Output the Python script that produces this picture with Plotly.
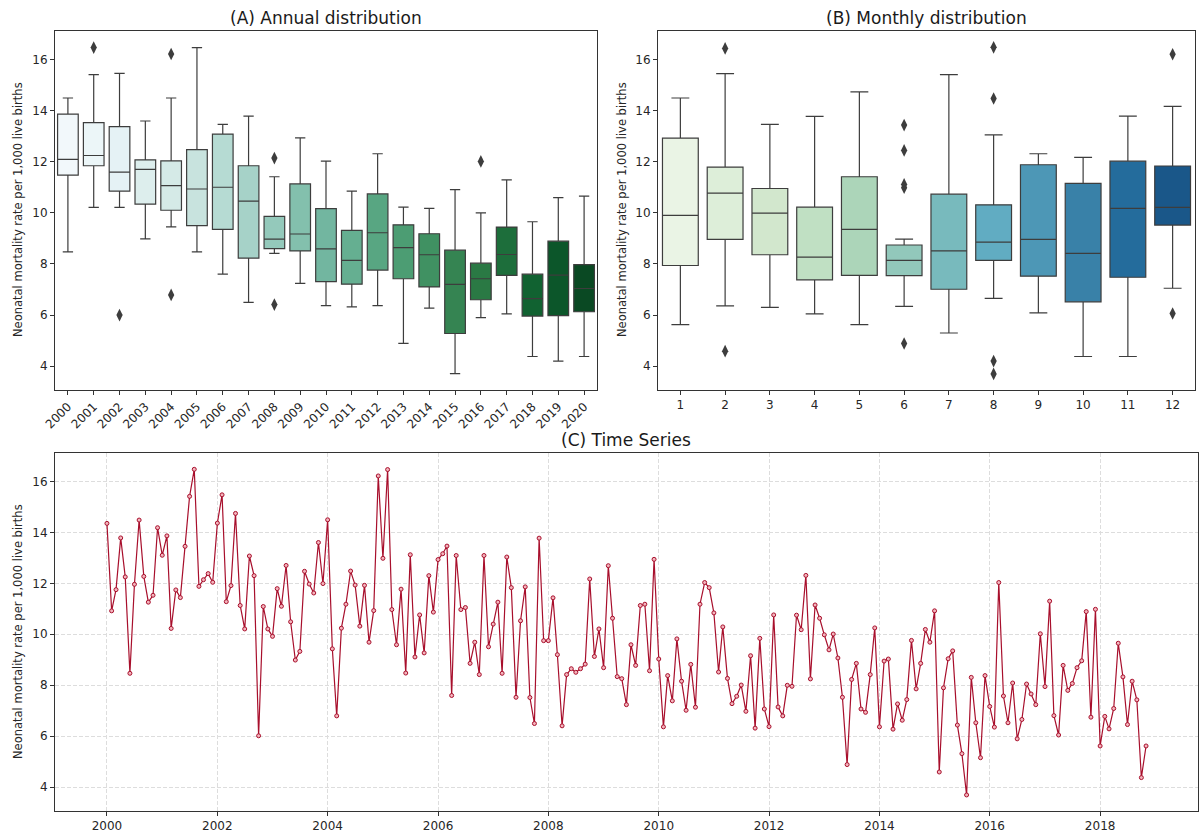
import colorsys
import pandas as pd
import plotly.graph_objects as go
import plotly.colors as pc

# ---------------- DATA ----------------
years = [str(y) for y in range(2000, 2021)]
a_lower = [8.47, 10.21, 10.21, 8.98, 9.45, 8.47, 7.60, 6.50, 8.41, 7.24, 6.37, 6.32, 6.37, 4.89, 6.27, 3.71, 5.90, 6.05, 4.38, 4.20, 4.38]
a_q1 = [11.47, 11.84, 10.85, 10.34, 10.10, 9.50, 9.35, 8.23, 8.60, 8.51, 7.31, 7.21, 7.76, 7.42, 7.10, 5.28, 6.60, 7.55, 5.96, 5.98, 6.13]
a_median = [12.09, 12.24, 11.59, 11.70, 11.06, 10.93, 11.00, 10.46, 8.97, 9.17, 8.59, 8.14, 9.22, 8.64, 8.36, 7.20, 7.42, 8.37, 6.64, 7.56, 7.04]
a_q3 = [13.86, 13.53, 13.37, 12.07, 12.03, 12.47, 13.08, 11.84, 9.86, 11.13, 10.16, 9.31, 10.74, 9.53, 9.18, 8.54, 8.03, 9.44, 7.60, 8.89, 7.97]
a_upper = [14.49, 15.40, 15.45, 13.59, 14.49, 16.46, 13.46, 13.78, 11.41, 12.93, 12.02, 10.85, 12.31, 10.22, 10.17, 10.91, 10.00, 11.29, 9.65, 10.59, 10.65]
a_out_x = ["2001", "2002", "2004", "2004", "2008", "2008", "2016"]
a_out_y = [16.46, 6.00, 16.21, 6.79, 12.14, 6.41, 12.01]

months = [str(m) for m in range(1, 13)]
b_lower = [5.63, 6.36, 6.30, 6.05, 5.63, 6.34, 5.30, 6.65, 6.09, 4.38, 4.38, 7.05]
b_q1 = [7.94, 8.96, 8.36, 7.38, 7.55, 7.54, 7.01, 8.14, 7.52, 6.52, 7.48, 9.52]
b_median = [9.90, 10.77, 9.99, 8.27, 9.35, 8.14, 8.51, 8.85, 8.96, 8.41, 10.17, 10.21]
b_q3 = [12.92, 11.79, 10.95, 10.22, 11.41, 8.74, 10.73, 10.31, 11.88, 11.15, 12.02, 11.83]
b_upper = [14.49, 15.44, 13.46, 13.77, 14.73, 8.97, 15.40, 13.05, 12.31, 12.17, 13.78, 14.16]
b_out_x = ["2", "2", "6", "6", "6", "6", "6", "8", "8", "8", "8", "12", "12"]
b_out_y = [16.43, 4.59, 13.43, 12.44, 11.11, 10.98, 4.89, 16.47, 14.47, 4.20, 3.70, 16.20, 6.06]

ts_start = "2000-01-01"
ts_values = [
    14.35, 10.92, 11.75, 13.78, 12.25, 8.47, 11.96, 14.48, 12.27, 11.26, 11.53, 14.18,
    13.10, 13.86, 10.23, 11.74, 11.44, 13.45, 15.41, 16.47, 11.88, 12.14, 12.38, 12.04,
    14.36, 15.47, 11.28, 11.91, 14.74, 11.13, 10.21, 13.07, 12.30, 6.02, 11.09, 10.21,
    9.92, 11.79, 11.10, 12.70, 10.49, 8.99, 9.33, 12.47, 11.97, 11.62, 13.60, 11.99,
    14.49, 9.43, 6.80, 10.24, 11.18, 12.48, 11.93, 10.32, 11.92, 9.69, 10.93, 16.21,
    12.98, 16.46, 10.97, 9.59, 11.77, 8.48, 13.12, 9.11, 10.76, 9.27, 12.30, 10.87,
    12.93, 13.16, 13.46, 7.60, 13.09, 10.97, 11.05, 8.86, 9.69, 8.42, 13.09, 9.51,
    10.40, 11.26, 8.47, 13.03, 11.83, 7.53, 10.53, 11.86, 7.52, 6.50, 13.77, 9.75,
    9.75, 11.43, 9.20, 6.41, 8.42, 8.65, 8.51, 8.65, 8.83, 12.17, 9.13, 10.21,
    8.69, 12.69, 10.63, 8.34, 8.26, 7.24, 9.59, 8.78, 11.13, 11.18, 8.57, 12.94,
    9.03, 6.37, 8.38, 7.39, 9.82, 8.16, 7.02, 8.82, 7.14, 11.18, 12.03, 11.83,
    10.84, 8.52, 10.29, 8.27, 7.28, 7.57, 8.01, 6.98, 9.16, 6.32, 9.84, 7.07,
    6.38, 10.76, 7.15, 6.80, 8.00, 7.96, 10.75, 10.18, 12.31, 8.25, 11.15, 10.63,
    9.98, 9.39, 10.01, 9.07, 7.53, 4.89, 8.23, 8.86, 7.07, 6.94, 8.42, 10.25,
    6.37, 8.95, 9.03, 6.28, 7.27, 6.63, 7.44, 9.76, 7.86, 8.86, 10.19, 9.69,
    10.92, 4.60, 7.90, 9.04, 9.35, 6.44, 5.32, 3.70, 8.31, 6.53, 5.16, 8.38,
    7.17, 6.36, 12.03, 7.58, 6.53, 8.09, 5.90, 6.66, 8.05, 7.66, 7.24, 10.02,
    7.95, 11.30, 6.81, 6.05, 8.78, 7.80, 8.07, 8.69, 8.96, 10.89, 6.75, 10.98,
    5.62, 6.78, 6.29, 7.09, 9.65, 8.33, 6.46, 8.16, 7.43, 4.38, 5.62,
]
ts_dates = pd.date_range(ts_start, periods=len(ts_values), freq="MS")

y_ticks = [4, 6, 8, 10, 12, 14, 16]
ylabel = "Neonatal mortality rate per 1,000 live births"

# ---------------- STYLE HELPERS ----------------
W, H = 1201, 834
FONT = "DejaVu Sans"
LINE_GRAY = "#3d3d3d"


def desat(rgbstr, prop=0.75):
    r, g, b = [float(v) / 255 for v in rgbstr[rgbstr.index("(") + 1:-1].split(",")]
    h, l, s = colorsys.rgb_to_hls(r, g, b)
    r, g, b = colorsys.hls_to_rgb(h, l, s * prop)
    return "rgb(%d,%d,%d)" % (round(r * 255), round(g * 255), round(b * 255))


def palette(scale, n):
    pos = [(k + 1) / (n + 1) for k in range(n)]
    return [desat(c) for c in pc.sample_colorscale(scale, pos)]


def px_x(p):
    return p / W


def px_y(p):
    return 1 - p / H


a_colors = palette(pc.sequential.BuGn, len(years))
b_colors = palette(pc.sequential.GnBu, len(months))

fig = go.Figure()

# Panel A
for i, yr in enumerate(years):
    fig.add_trace(go.Box(
        x=[yr], q1=[a_q1[i]], median=[a_median[i]], q3=[a_q3[i]],
        lowerfence=[a_lower[i]], upperfence=[a_upper[i]],
        fillcolor=a_colors[i], line=dict(color=LINE_GRAY, width=1.2),
        width=0.8, whiskerwidth=0.5, boxpoints=False,
        xaxis="x", yaxis="y", showlegend=False, hoverinfo="y"))
fig.add_trace(go.Scatter(
    x=a_out_x, y=a_out_y, mode="markers",
    marker=dict(symbol="diamond-tall", size=9, color=LINE_GRAY),
    xaxis="x", yaxis="y", showlegend=False))

# Panel B
for i, m in enumerate(months):
    fig.add_trace(go.Box(
        x=[m], q1=[b_q1[i]], median=[b_median[i]], q3=[b_q3[i]],
        lowerfence=[b_lower[i]], upperfence=[b_upper[i]],
        fillcolor=b_colors[i], line=dict(color=LINE_GRAY, width=1.2),
        width=0.8, whiskerwidth=0.5, boxpoints=False,
        xaxis="x2", yaxis="y2", showlegend=False, hoverinfo="y"))
fig.add_trace(go.Scatter(
    x=b_out_x, y=b_out_y, mode="markers",
    marker=dict(symbol="diamond-tall", size=9, color=LINE_GRAY),
    xaxis="x2", yaxis="y2", showlegend=False))

# Panel C
fig.add_trace(go.Scatter(
    x=ts_dates, y=ts_values, mode="lines+markers",
    line=dict(color="#a80f2c", width=1.2),
    marker=dict(symbol="circle", size=4, color="#f3b4bc",
                line=dict(color="#a80f2c", width=1)),
    xaxis="x3", yaxis="y3", showlegend=False))

span = ts_dates[-1] - ts_dates[0]
x3_range = [ts_dates[0] - 0.05 * span, ts_dates[-1] + 0.05 * span]

axis_common = dict(
    showline=True, linecolor="#333333", linewidth=1, mirror=True,
    ticks="outside", ticklen=4, tickcolor="#333333",
    tickfont=dict(family=FONT, size=12, color="#262626"),
    zeroline=False, automargin=False)

yr_range = [3.07, 17.11]

# Domains (pixel based)
A_x = [px_x(55), px_x(597)]
B_x = [px_x(658), px_x(1195)]
C_x = [px_x(55), px_x(1198)]
AB_y = [px_y(390), px_y(31)]
C_y = [px_y(811), px_y(453)]

grid_style = dict(showgrid=True, gridcolor="#dddddd", griddash="4px,2px", gridwidth=1)

fig.update_layout(
    width=W, height=H,
    margin=dict(l=0, r=0, t=0, b=0, autoexpand=False),
    paper_bgcolor="white", plot_bgcolor="white",
    font=dict(family=FONT, color="#262626"),
    boxmode="overlay",
    xaxis=dict(domain=A_x, anchor="y", type="category", range=[-0.5, len(years) - 0.5],
               tickangle=-45, showgrid=False, **axis_common),
    yaxis=dict(domain=AB_y, anchor="x", range=yr_range, tickvals=y_ticks,
               showgrid=False, **axis_common),
    xaxis2=dict(domain=B_x, anchor="y2", type="category", range=[-0.5, len(months) - 0.5],
                showgrid=False, **axis_common),
    yaxis2=dict(domain=AB_y, anchor="x2", range=yr_range, tickvals=y_ticks,
                showgrid=False, **axis_common),
    xaxis3=dict(domain=C_x, anchor="y3", type="date", range=x3_range,
                dtick="M24", tick0="2000-01-01", tickformat="%Y",
                **grid_style, **axis_common),
    yaxis3=dict(domain=C_y, anchor="x3", range=yr_range, tickvals=y_ticks,
                **grid_style, **axis_common),
)

title_font = dict(family=FONT, size=17, color="#1a1a1a")
label_font = dict(family=FONT, size=11.5, color="#262626")
annots = [
    dict(text="(A) Annual distribution", x=px_x(326), y=px_y(18), font=title_font),
    dict(text="(B) Monthly distribution", x=px_x(926), y=px_y(18), font=title_font),
    dict(text="(C) Time Series", x=px_x(626), y=px_y(440), font=title_font),
    dict(text=ylabel, x=px_x(18), y=px_y(210), textangle=-90, font=label_font),
    dict(text=ylabel, x=px_x(622), y=px_y(210), textangle=-90, font=label_font),
    dict(text=ylabel, x=px_x(18), y=px_y(632), textangle=-90, font=label_font),
]
for a in annots:
    fig.add_annotation(xref="paper", yref="paper", showarrow=False,
                       xanchor="center", yanchor="middle", **a)

fig.write_html("out.html")
